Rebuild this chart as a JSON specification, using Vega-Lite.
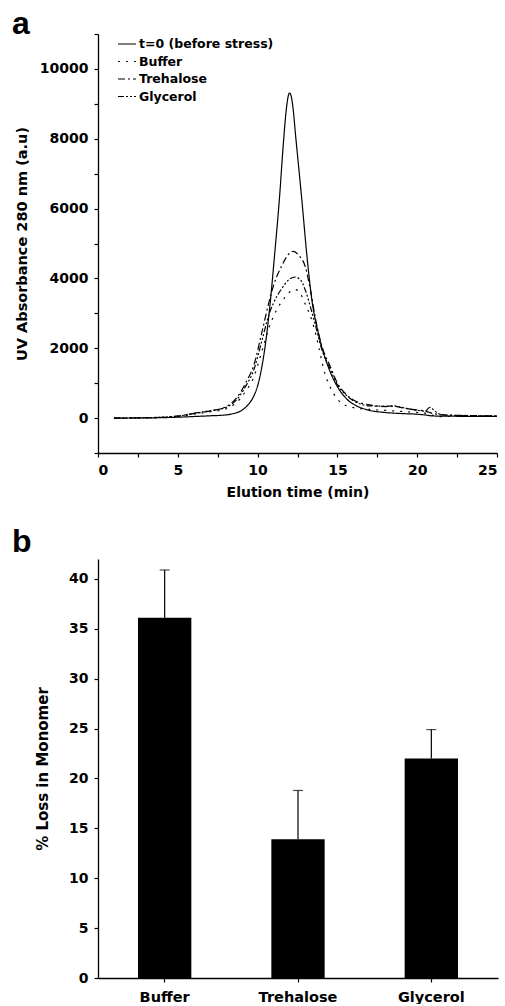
{
  "$schema": "https://vega.github.io/schema/vega-lite/v6.json",
  "padding": {"left": 12, "top": 8, "right": 0, "bottom": 0},
  "spacing": 27,
  "config": {
    "font": "DejaVu Sans",
    "view": {"stroke": null},
    "axis": {
      "grid": false,
      "domainColor": "black",
      "domainWidth": 1.3,
      "tickColor": "black",
      "tickWidth": 1.2,
      "tickSize": 4,
      "labelFont": "DejaVu Sans",
      "labelFontSize": 14,
      "labelFontWeight": "bold",
      "labelColor": "black",
      "labelPadding": 6,
      "titleFont": "DejaVu Sans",
      "titleFontSize": 14,
      "titleFontWeight": "bold",
      "titleColor": "black"
    }
  },
  "vconcat": [
    {
      "width": 399,
      "height": 419,
      "title": {"text": "a", "anchor": "start", "frame": "group", "dx": -86, "fontSize": 32, "font": "Liberation Sans", "fontWeight": "bold", "offset": -8, "color": "black"},
      "data": {"values": [
        {"sample": "t=0 (before stress)", "time": 1, "abs": 0},
        {"sample": "t=0 (before stress)", "time": 2, "abs": 2},
        {"sample": "t=0 (before stress)", "time": 3, "abs": 5},
        {"sample": "t=0 (before stress)", "time": 4, "abs": 12},
        {"sample": "t=0 (before stress)", "time": 5, "abs": 25},
        {"sample": "t=0 (before stress)", "time": 6, "abs": 45},
        {"sample": "t=0 (before stress)", "time": 7, "abs": 65},
        {"sample": "t=0 (before stress)", "time": 8, "abs": 90},
        {"sample": "t=0 (before stress)", "time": 8.5, "abs": 130},
        {"sample": "t=0 (before stress)", "time": 9, "abs": 220},
        {"sample": "t=0 (before stress)", "time": 9.4, "abs": 380},
        {"sample": "t=0 (before stress)", "time": 9.75, "abs": 620},
        {"sample": "t=0 (before stress)", "time": 10, "abs": 920},
        {"sample": "t=0 (before stress)", "time": 10.26, "abs": 1450},
        {"sample": "t=0 (before stress)", "time": 10.5, "abs": 2150},
        {"sample": "t=0 (before stress)", "time": 10.79, "abs": 3300},
        {"sample": "t=0 (before stress)", "time": 11.05, "abs": 4600},
        {"sample": "t=0 (before stress)", "time": 11.37, "abs": 6300},
        {"sample": "t=0 (before stress)", "time": 11.62, "abs": 7900},
        {"sample": "t=0 (before stress)", "time": 11.8, "abs": 8850},
        {"sample": "t=0 (before stress)", "time": 11.9, "abs": 9180},
        {"sample": "t=0 (before stress)", "time": 12.0, "abs": 9310},
        {"sample": "t=0 (before stress)", "time": 12.1, "abs": 9230},
        {"sample": "t=0 (before stress)", "time": 12.2, "abs": 8950},
        {"sample": "t=0 (before stress)", "time": 12.4, "abs": 8000},
        {"sample": "t=0 (before stress)", "time": 12.77, "abs": 6260},
        {"sample": "t=0 (before stress)", "time": 13.1, "abs": 4600},
        {"sample": "t=0 (before stress)", "time": 13.4, "abs": 3390},
        {"sample": "t=0 (before stress)", "time": 13.82, "abs": 2400},
        {"sample": "t=0 (before stress)", "time": 14.44, "abs": 1450},
        {"sample": "t=0 (before stress)", "time": 15, "abs": 900},
        {"sample": "t=0 (before stress)", "time": 15.6, "abs": 540},
        {"sample": "t=0 (before stress)", "time": 16.2, "abs": 350},
        {"sample": "t=0 (before stress)", "time": 16.85, "abs": 240},
        {"sample": "t=0 (before stress)", "time": 18, "abs": 160},
        {"sample": "t=0 (before stress)", "time": 19, "abs": 130},
        {"sample": "t=0 (before stress)", "time": 20, "abs": 110},
        {"sample": "t=0 (before stress)", "time": 20.5, "abs": 90},
        {"sample": "t=0 (before stress)", "time": 21, "abs": 60},
        {"sample": "t=0 (before stress)", "time": 22, "abs": 55},
        {"sample": "t=0 (before stress)", "time": 23, "abs": 50},
        {"sample": "t=0 (before stress)", "time": 24, "abs": 50},
        {"sample": "t=0 (before stress)", "time": 25, "abs": 45},

        {"sample": "Buffer", "time": 1, "abs": 0},
        {"sample": "Buffer", "time": 3, "abs": 10},
        {"sample": "Buffer", "time": 5, "abs": 40},
        {"sample": "Buffer", "time": 6, "abs": 110},
        {"sample": "Buffer", "time": 7, "abs": 180},
        {"sample": "Buffer", "time": 8, "abs": 260},
        {"sample": "Buffer", "time": 8.9, "abs": 550},
        {"sample": "Buffer", "time": 9.3, "abs": 800},
        {"sample": "Buffer", "time": 9.74, "abs": 1150},
        {"sample": "Buffer", "time": 10.26, "abs": 1900},
        {"sample": "Buffer", "time": 10.8, "abs": 2700},
        {"sample": "Buffer", "time": 11.2, "abs": 3100},
        {"sample": "Buffer", "time": 11.7, "abs": 3450},
        {"sample": "Buffer", "time": 12.1, "abs": 3640},
        {"sample": "Buffer", "time": 12.35, "abs": 3680},
        {"sample": "Buffer", "time": 12.7, "abs": 3550},
        {"sample": "Buffer", "time": 13, "abs": 3250},
        {"sample": "Buffer", "time": 13.4, "abs": 2800},
        {"sample": "Buffer", "time": 13.7, "abs": 2300},
        {"sample": "Buffer", "time": 14.2, "abs": 1300},
        {"sample": "Buffer", "time": 14.7, "abs": 750},
        {"sample": "Buffer", "time": 15.2, "abs": 450},
        {"sample": "Buffer", "time": 16, "abs": 300},
        {"sample": "Buffer", "time": 17, "abs": 250},
        {"sample": "Buffer", "time": 18, "abs": 220},
        {"sample": "Buffer", "time": 19, "abs": 190},
        {"sample": "Buffer", "time": 20, "abs": 160},
        {"sample": "Buffer", "time": 20.5, "abs": 140},
        {"sample": "Buffer", "time": 21, "abs": 80},
        {"sample": "Buffer", "time": 21.5, "abs": 40},
        {"sample": "Buffer", "time": 22, "abs": 50},
        {"sample": "Buffer", "time": 23, "abs": 55},
        {"sample": "Buffer", "time": 25, "abs": 50},

        {"sample": "Trehalose", "time": 1, "abs": 0},
        {"sample": "Trehalose", "time": 3, "abs": 10},
        {"sample": "Trehalose", "time": 5, "abs": 60},
        {"sample": "Trehalose", "time": 6, "abs": 130},
        {"sample": "Trehalose", "time": 7, "abs": 200},
        {"sample": "Trehalose", "time": 8, "abs": 320},
        {"sample": "Trehalose", "time": 8.9, "abs": 716},
        {"sample": "Trehalose", "time": 9.3, "abs": 1050},
        {"sample": "Trehalose", "time": 9.74, "abs": 1480},
        {"sample": "Trehalose", "time": 10.26, "abs": 2440},
        {"sample": "Trehalose", "time": 10.7, "abs": 3300},
        {"sample": "Trehalose", "time": 11, "abs": 3800},
        {"sample": "Trehalose", "time": 11.5, "abs": 4350},
        {"sample": "Trehalose", "time": 12, "abs": 4720},
        {"sample": "Trehalose", "time": 12.25, "abs": 4775},
        {"sample": "Trehalose", "time": 12.6, "abs": 4650},
        {"sample": "Trehalose", "time": 12.98, "abs": 4346},
        {"sample": "Trehalose", "time": 13.3, "abs": 3700},
        {"sample": "Trehalose", "time": 13.6, "abs": 2910},
        {"sample": "Trehalose", "time": 14, "abs": 2100},
        {"sample": "Trehalose", "time": 14.55, "abs": 1480},
        {"sample": "Trehalose", "time": 15, "abs": 1000},
        {"sample": "Trehalose", "time": 15.5, "abs": 700},
        {"sample": "Trehalose", "time": 16, "abs": 520},
        {"sample": "Trehalose", "time": 17, "abs": 380},
        {"sample": "Trehalose", "time": 18, "abs": 330},
        {"sample": "Trehalose", "time": 18.5, "abs": 340},
        {"sample": "Trehalose", "time": 19, "abs": 300},
        {"sample": "Trehalose", "time": 20, "abs": 230},
        {"sample": "Trehalose", "time": 20.5, "abs": 200},
        {"sample": "Trehalose", "time": 21, "abs": 130},
        {"sample": "Trehalose", "time": 22, "abs": 85},
        {"sample": "Trehalose", "time": 23, "abs": 75},
        {"sample": "Trehalose", "time": 25, "abs": 60},

        {"sample": "Glycerol", "time": 1, "abs": 0},
        {"sample": "Glycerol", "time": 3, "abs": 10},
        {"sample": "Glycerol", "time": 5, "abs": 55},
        {"sample": "Glycerol", "time": 6, "abs": 140},
        {"sample": "Glycerol", "time": 7, "abs": 210},
        {"sample": "Glycerol", "time": 8, "abs": 300},
        {"sample": "Glycerol", "time": 8.9, "abs": 650},
        {"sample": "Glycerol", "time": 9.3, "abs": 950},
        {"sample": "Glycerol", "time": 9.74, "abs": 1350},
        {"sample": "Glycerol", "time": 10.26, "abs": 2200},
        {"sample": "Glycerol", "time": 10.7, "abs": 2950},
        {"sample": "Glycerol", "time": 11, "abs": 3300},
        {"sample": "Glycerol", "time": 11.5, "abs": 3700},
        {"sample": "Glycerol", "time": 12, "abs": 3980},
        {"sample": "Glycerol", "time": 12.35, "abs": 4040},
        {"sample": "Glycerol", "time": 12.7, "abs": 3950},
        {"sample": "Glycerol", "time": 13, "abs": 3650},
        {"sample": "Glycerol", "time": 13.3, "abs": 3200},
        {"sample": "Glycerol", "time": 13.6, "abs": 2700},
        {"sample": "Glycerol", "time": 14, "abs": 2000},
        {"sample": "Glycerol", "time": 14.55, "abs": 1400},
        {"sample": "Glycerol", "time": 15, "abs": 950},
        {"sample": "Glycerol", "time": 15.5, "abs": 680},
        {"sample": "Glycerol", "time": 16, "abs": 500},
        {"sample": "Glycerol", "time": 17, "abs": 350},
        {"sample": "Glycerol", "time": 18, "abs": 340},
        {"sample": "Glycerol", "time": 18.5, "abs": 350},
        {"sample": "Glycerol", "time": 19, "abs": 310},
        {"sample": "Glycerol", "time": 20, "abs": 220},
        {"sample": "Glycerol", "time": 20.5, "abs": 200},
        {"sample": "Glycerol", "time": 20.8, "abs": 310},
        {"sample": "Glycerol", "time": 21.1, "abs": 200},
        {"sample": "Glycerol", "time": 21.5, "abs": 100},
        {"sample": "Glycerol", "time": 22, "abs": 80},
        {"sample": "Glycerol", "time": 23, "abs": 70},
        {"sample": "Glycerol", "time": 25, "abs": 60}
      ]},
      "mark": {"type": "line", "interpolate": "monotone", "strokeWidth": 1.2, "color": "black"},
      "encoding": {
        "x": {
          "field": "time", "type": "quantitative",
          "scale": {"domain": [0, 25], "nice": false},
          "axis": {
            "title": "Elution time (min)",
            "values": [0, 2.5, 5, 7.5, 10, 12.5, 15, 17.5, 20, 22.5, 25],
            "labelExpr": "datum.value % 5 == 0 ? datum.label : ''",
            "titlePadding": 8
          }
        },
        "y": {
          "field": "abs", "type": "quantitative",
          "scale": {"domain": [-1000, 11000], "nice": false},
          "axis": {
            "title": "UV Absorbance 280 nm  (a.u)",
            "format": "d",
            "values": [-1000, 0, 1000, 2000, 3000, 4000, 5000, 6000, 7000, 8000, 9000, 10000, 11000],
            "labelExpr": "datum.value % 2000 == 0 && datum.value >= 0 && datum.value <= 10000 ? datum.label : ''",
            "titlePadding": 10,
            "titleFontSize": 14.5
          }
        },
        "strokeDash": {
          "field": "sample", "type": "nominal",
          "scale": {
            "domain": ["t=0 (before stress)", "Buffer", "Trehalose", "Glycerol"],
            "range": [[1, 0], [2, 6], [7, 3, 2, 3], [6, 2, 2, 2, 2, 2, 2, 2]]
          },
          "legend": {
            "orient": "none", "legendX": 19, "legendY": 0,
            "title": null,
            "symbolType": "stroke", "symbolSize": 324, "symbolStrokeWidth": 1.2,
            "symbolStrokeColor": "black",
            "labelFont": "DejaVu Sans", "labelFontSize": 12.5, "labelFontWeight": "bold", "labelColor": "black",
            "rowPadding": 0.5, "labelOffset": 2, "padding": 0
          }
        }
      }
    },
    {
      "width": 400,
      "height": 419,
      "title": {"text": "b", "anchor": "start", "frame": "group", "dx": -86, "fontSize": 32, "font": "Liberation Sans", "fontWeight": "bold", "offset": 0, "color": "black"},
      "data": {"values": [
        {"condition": "Buffer", "loss": 36.1, "upper": 40.9},
        {"condition": "Trehalose", "loss": 13.9, "upper": 18.8},
        {"condition": "Glycerol", "loss": 22.0, "upper": 24.9}
      ]},
      "encoding": {
        "x": {
          "field": "condition", "type": "nominal", "sort": null,
          "scale": {"paddingInner": 0.6, "paddingOuter": 0.3},
          "axis": {"title": null, "labelAngle": 0, "labelPadding": 8, "labelFontSize": 14.5}
        }
      },
      "layer": [
        {
          "mark": {"type": "bar", "color": "black"},
          "encoding": {
            "y": {
              "field": "loss", "type": "quantitative",
              "scale": {"domain": [0, 42], "nice": false},
              "axis": {
                "title": "% Loss in Monomer",
                "values": [0, 2.5, 5, 7.5, 10, 12.5, 15, 17.5, 20, 22.5, 25, 27.5, 30, 32.5, 35, 37.5, 40],
                "labelExpr": "datum.value % 5 == 0 ? datum.label : ''",
                "titlePadding": 18,
                "titleFontSize": 15
              }
            }
          }
        },
        {
          "mark": {"type": "rule", "color": "black", "strokeWidth": 1.2},
          "encoding": {
            "y": {"field": "loss", "type": "quantitative"},
            "y2": {"field": "upper"}
          }
        },
        {
          "mark": {"type": "tick", "color": "black", "thickness": 1.2, "size": 10},
          "encoding": {
            "y": {"field": "upper", "type": "quantitative"}
          }
        }
      ]
    }
  ]
}
